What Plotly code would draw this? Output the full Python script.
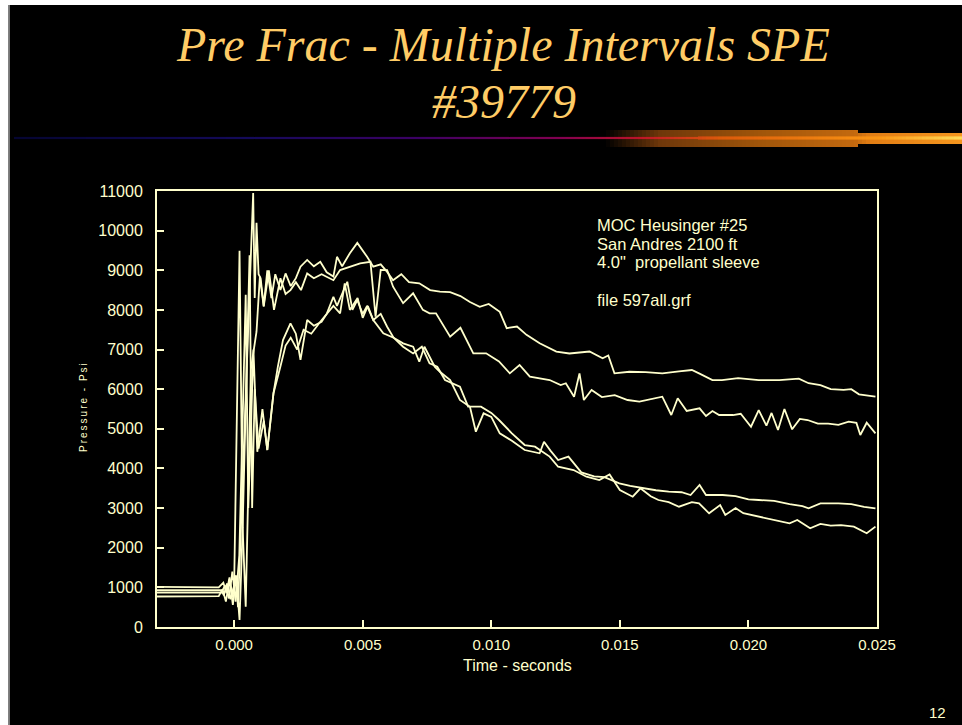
import plotly.graph_objects as go

# Pressure records for four propellant intervals (time in ms, pressure in psi)
t_a = [-3.0, -0.9, -0.6, -0.42, -0.3, -0.18, -0.06, 0.06, 0.15, 0.74,
       0.80, 0.87, 0.95, 1.03, 1.15, 1.29, 1.45, 1.6, 1.8, 2.0,
       2.2, 2.4, 2.58, 2.84, 3.1, 3.35, 3.6, 3.86, 4.0, 4.2,
       4.5, 4.79, 5.0, 5.17, 5.41, 5.7, 5.95, 6.18, 6.5, 6.8,
       7.2, 7.62, 8.0, 8.4, 8.8, 9.17, 9.55, 9.9, 10.33, 10.6,
       11.0, 11.37, 11.88, 12.53, 13.04, 13.82, 14.33, 14.55, 14.79, 15.37,
       16.0, 16.65, 17.3, 17.8, 18.08, 18.6, 18.97, 19.6, 20.4, 21.2,
       21.96, 22.34, 22.8, 23.2, 23.7, 24.0, 24.3, 24.94]
p_a = [1010, 1010, 1000, 1120, 860, 1250, 760, 1300, 500, 10950,
       8300, 10200, 8900, 8800, 8100, 9000, 8300, 8900, 8500, 8920,
       8600, 8800, 9090, 9260, 9100, 9215, 8950, 8840, 9340, 9100,
       9430, 9690, 9500, 9340, 9090, 9150, 8960, 8750, 8900, 8700,
       8670, 8500, 8460, 8450, 8350, 8200, 8080, 8150, 7950, 7540,
       7580, 7370, 7160, 6950, 6900, 6950, 6780, 6850, 6400, 6440,
       6430, 6400, 6450, 6483, 6400, 6231, 6231, 6280, 6230, 6230,
       6264, 6150, 6100, 6000, 5980, 6000, 5870, 5810]

t_b = [-3.0, -0.5, -0.4, -0.28, -0.14, 0.0, 0.21, 0.33, 0.45, 0.65,
       0.87, 1.0, 1.15, 1.35, 1.55, 1.8, 2.0, 2.19, 2.4, 2.6,
       2.84, 3.1, 3.4, 3.86, 4.12, 4.51, 4.9, 5.3, 5.5, 5.7,
       5.95, 6.18, 6.57, 6.96, 7.34, 7.6, 7.85, 8.4, 8.8, 9.3,
       9.8, 10.3, 10.72, 11.1, 11.5, 12.27, 12.7, 12.9, 13.22, 13.43,
       13.6, 13.9, 14.3, 14.8, 15.3, 15.76, 16.2, 16.65, 17.0, 17.25,
       17.6, 17.9, 18.1, 18.35, 18.6, 18.86, 19.4, 19.7, 20.1, 20.4,
       20.7, 20.9, 21.15, 21.4, 21.7, 22.0, 22.3, 22.7, 23.1, 23.5,
       23.9, 24.2, 24.35, 24.6, 24.94]
p_b = [930, 930, 800, 1100, 700, 1050, 9490, 2500, 512, 6500,
       7450, 8840, 8080, 9000, 8000, 8800, 8400, 8500, 8700, 8500,
       8920, 8800, 8900, 8750, 9006, 9090, 9174, 9215, 7830, 9010,
       9006, 8585, 8170, 8420, 8000, 7914, 7914, 7323, 7550, 6905,
       6905, 6700, 6400, 6610, 6315, 6231, 6105, 6150, 5810, 6400,
       5727, 5979, 5800, 5850, 5727, 5684, 5750, 5810, 5348, 5770,
       5450, 5500, 5517, 5323, 5450, 5348, 5348, 5380, 5053, 5474,
       5080, 5400, 4970, 5500, 4987, 5250, 5222, 5130, 5130, 5100,
       5180, 5150, 4843, 5154, 4886]

t_c = [-3.0, -0.5, -0.35, -0.2, -0.07, 0.06, 0.2, 0.45, 0.55, 0.75,
       0.9, 1.1, 1.29, 1.53, 1.7, 1.9, 2.19, 2.4, 2.58, 2.84,
       3.1, 3.4, 3.6, 3.86, 4.0, 4.2, 4.4, 4.6, 4.79, 5.0,
       5.17, 5.41, 5.7, 5.95, 6.2, 6.57, 6.96, 7.2, 7.4, 7.8,
       8.0, 8.4, 8.78, 9.17, 9.4, 9.7, 10.0, 10.33, 10.8, 11.3,
       11.88, 12.05, 12.3, 12.6, 13.0, 13.5, 14.0, 14.4, 14.98, 15.4,
       15.9, 16.4, 16.9, 17.4, 17.75, 18.1, 18.35, 19.0, 19.5, 20.0,
       20.4, 21.0, 21.6, 22.1, 22.34, 22.8, 23.5, 24.0, 24.5, 24.94]
p_c = [870, 870, 1050, 720, 1400, 640, 1800, 8380, 3000, 7000,
       4420, 5500, 4465, 5900, 6570, 7240, 7660, 7400, 6740, 7745,
       7600, 7700, 7900, 8330, 8100, 8400, 8710, 8000, 8250, 7900,
       8100, 7745, 7900, 7576, 7300, 7157, 7070, 6693, 7070, 6567,
       6440, 6231, 5727, 5558, 4927, 5391, 5300, 4886, 4700, 4465,
       4382, 4675, 4450, 4213, 4300, 3900, 3800, 3780, 3625, 3560,
       3500, 3450, 3414, 3400, 3330, 3582, 3330, 3330, 3300, 3220,
       3204, 3180, 3100, 3050, 2994, 3120, 3120, 3100, 3030, 2994]

t_d = [-3.0, -0.9, -0.6, -0.45, -0.32, -0.18, -0.05, 0.08, 0.21, 0.33,
       0.6, 0.7, 0.8, 0.95, 1.15, 1.29, 1.53, 1.8, 2.0, 2.2,
       2.45, 2.7, 3.0, 3.35, 3.6, 3.86, 4.12, 4.3, 4.5, 4.8,
       5.0, 5.2, 5.41, 5.8, 6.2, 6.57, 6.96, 7.3, 7.6, 7.9,
       8.2, 8.78, 9.1, 9.6, 10.0, 10.3, 10.8, 11.3, 11.7, 11.88,
       12.27, 12.6, 13.0, 13.2, 13.7, 14.2, 14.6, 15.0, 15.5, 15.8,
       16.2, 16.5, 16.9, 17.3, 17.8, 18.08, 18.47, 18.9, 19.1, 19.5,
       19.8, 20.4, 21.0, 21.6, 21.9, 22.4, 22.8, 23.2, 23.6, 24.1,
       24.6, 24.94]
p_d = [770, 770, 780, 950, 640, 1200, 560, 1300, 176, 2500,
       9380, 3000, 6000, 4500, 5200, 4465, 5900, 6570, 7100, 7300,
       7000, 7500, 7400, 7700, 7900, 8100, 7914, 8670, 8000, 8300,
       7800, 8100, 7745, 7409, 7300, 7070, 6900, 7070, 6650, 6567,
       6231, 6062, 5558, 5558, 5400, 5222, 4886, 4591, 4550, 4465,
       4300, 4044, 4000, 3960, 3792, 3708, 3850, 3456, 3287, 3500,
       3300, 3204, 3150, 3035, 3150, 3120, 2868, 3078, 2825, 3000,
       2870, 2783, 2700, 2616, 2700, 2490, 2600, 2560, 2570, 2532,
       2364, 2532]

x_ticks = [0.0, 0.005, 0.010, 0.015, 0.020, 0.025]
x_tick_text = ["0.000", "0.005", "0.010", "0.015", "0.020", "0.025"]
y_ticks = list(range(0, 11001, 1000))

CREAM = "#FFFFCC"
GOLD = "#FFCC66"
W, H = 962, 725
L, R, T, B = 157, 877, 191, 627


def px(x):
    return (x - L) / (R - L)


def py(y):
    return (B - y) / (B - T)


fig = go.Figure()
for t_ms, p in [(t_a, p_a), (t_b, p_b), (t_c, p_c), (t_d, p_d)]:
    fig.add_trace(go.Scatter(
        x=[v / 1000.0 for v in t_ms], y=p, mode="lines",
        line=dict(color=CREAM, width=1.8), showlegend=False,
        hoverinfo="skip"))

shapes = []
# slide edge
shapes.append(dict(type="rect", xref="paper", yref="paper", x0=px(0), x1=px(8.5),
                   y0=py(H), y1=py(0), fillcolor="white", line_width=0, layer="above"))
shapes.append(dict(type="rect", xref="paper", yref="paper", x0=px(0), x1=px(W),
                   y0=py(5), y1=py(0), fillcolor="white", line_width=0, layer="above"))
shapes.append(dict(type="line", xref="paper", yref="paper", x0=px(9.5), x1=px(9.5),
                   y0=py(H), y1=py(5), line=dict(color="#777777", width=1), layer="above"))


def lerp_color(stops, x):
    for (x0, c0), (x1, c1) in zip(stops, stops[1:]):
        if x0 <= x <= x1:
            f = (x - x0) / (x1 - x0) if x1 > x0 else 0
            return tuple(int(round(a + (b - a) * f)) for a, b in zip(c0, c1))
    return stops[-1][1]


# decorative rule under the title
rule_stops = [(14, (5, 5, 50)), (250, (20, 10, 90)), (420, (60, 0, 100)),
              (560, (130, 0, 80)), (640, (190, 20, 40)), (720, (220, 90, 10)),
              (880, (250, 150, 20)), (962, (255, 220, 90))]
glow_stops = [(605, (0, 0, 0)), (660, (110, 55, 10)), (760, (160, 85, 10)),
              (855, (195, 105, 15)), (870, (225, 125, 20)), (962, (245, 150, 30))]
step = 4
x = 14
while x < W:
    xm = x + step / 2
    if xm > 605:
        g = lerp_color(glow_stops, xm)
        half = 8 if xm < 858 else 5
        shapes.append(dict(type="rect", xref="paper", yref="paper",
                           x0=px(x), x1=px(x + step), y0=py(139 + half), y1=py(139 - half - 1),
                           fillcolor="rgb(%d,%d,%d)" % g, line_width=0, layer="above"))
    c = lerp_color(rule_stops, xm)
    thick = 2.2 if xm < 700 else 3.2
    shapes.append(dict(type="rect", xref="paper", yref="paper",
                       x0=px(x), x1=px(x + step), y0=py(138 + thick / 2), y1=py(138 - thick / 2),
                       fillcolor="rgb(%d,%d,%d)" % c, line_width=0, layer="above"))
    x += step

annotations = [
    dict(text="<i>Pre Frac - Multiple Intervals SPE</i>", x=px(503), y=py(44),
         font=dict(family="Liberation Serif", size=48, color=GOLD)),
    dict(text="<i>#39779</i>", x=px(504), y=py(102),
         font=dict(family="Liberation Serif", size=48, color=GOLD)),
    dict(text="MOC Heusinger #25", x=px(595), y=py(225), xanchor="left",
         font=dict(family="Liberation Sans", size=16.5, color=CREAM)),
    dict(text="San Andres 2100 ft", x=px(595), y=py(243.5), xanchor="left",
         font=dict(family="Liberation Sans", size=16.5, color=CREAM)),
    dict(text="4.0\"  propellant sleeve", x=px(595), y=py(262), xanchor="left",
         font=dict(family="Liberation Sans", size=16.5, color=CREAM)),
    dict(text="file 597all.grf", x=px(595), y=py(299.5), xanchor="left",
         font=dict(family="Liberation Sans", size=16.5, color=CREAM)),
    dict(text="Time - seconds", x=0.5, y=py(665),
         font=dict(family="Liberation Sans", size=16, color=CREAM)),
    dict(text="P\u2009r\u2009e\u2009s\u2009s\u2009u\u2009r\u2009e\u2009 \u2009-\u2009 \u2009P\u2009s\u2009i",
         x=px(83), y=py(408), textangle=-90,
         font=dict(family="Liberation Sans", size=10, color=CREAM)),
    dict(text="12", x=px(937.5), y=py(712),
         font=dict(family="Liberation Sans", size=15, color=CREAM)),
]
for a in annotations:
    a.setdefault("xanchor", "center")
    a.update(xref="paper", yref="paper", yanchor="middle", showarrow=False)

axis_common = dict(showgrid=False, zeroline=False, showline=True, linecolor=CREAM,
                   linewidth=2, mirror=True, ticks="inside", ticklen=7, tickwidth=1.5,
                   tickcolor=CREAM)

fig.update_layout(
    width=W, height=H,
    margin=dict(l=L, r=W - R, t=T, b=H - B),
    paper_bgcolor="black", plot_bgcolor="black",
    xaxis=dict(range=[-0.003, 0.025], tickvals=x_ticks, ticktext=x_tick_text,
               ticklabelstandoff=3,
               tickfont=dict(family="Liberation Sans", size=15, color=CREAM),
               **axis_common),
    yaxis=dict(range=[0, 11000], tickvals=y_ticks, tickformat="d",
               ticklabelstandoff=9,
               tickfont=dict(family="Liberation Sans", size=16, color=CREAM),
               **axis_common),
    shapes=shapes, annotations=annotations,
)

fig.write_html("out.html")
